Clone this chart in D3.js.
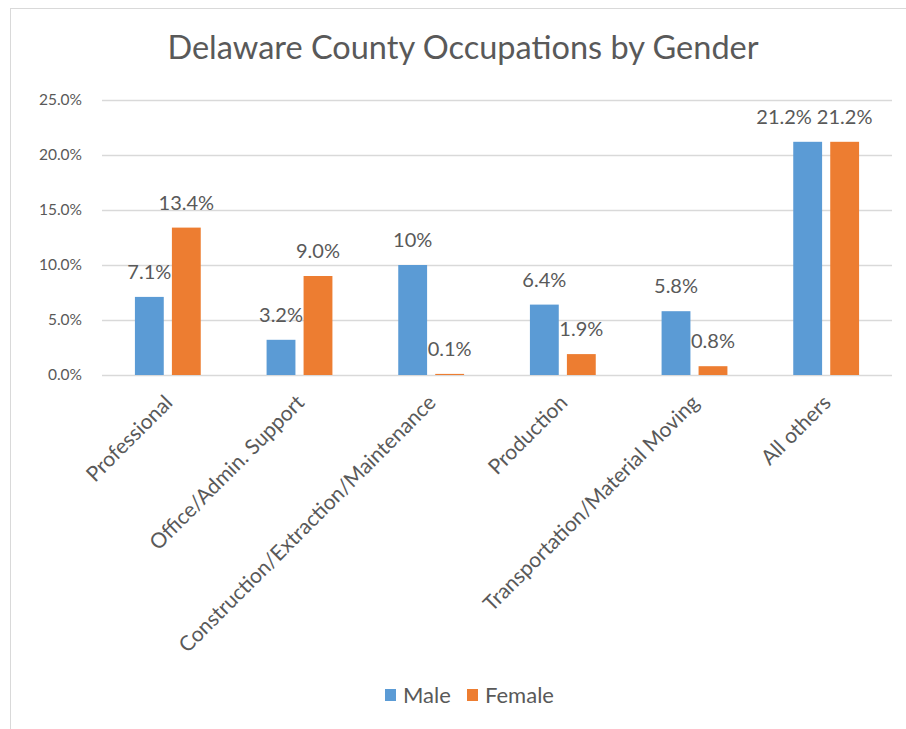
<!DOCTYPE html>
<html>
<head>
<meta charset="utf-8">
<script src="https://cdn.jsdelivr.net/npm/d3@7"></script>
<style>
  body { margin: 0; background: #fff; }
  text { font-family: Lato, "Open Sans", sans-serif; fill: #595959; }
</style>
</head>
<body>
<svg id="chart" width="906" height="729"></svg>
<script>
// chart values
var categories = ['Professional', 'Office/Admin. Support', 'Construction/Extraction/Maintenance',
                  'Production', 'Transportation/Material Moving', 'All others'];
var seriesNames = ['Male', 'Female'];
var maleValues = [7.1, 3.2, 10, 6.4, 5.8, 21.2];
var femaleValues = [13.4, 9.0, 0.1, 1.9, 0.8, 21.2];
var maleLabels = ['7.1%', '3.2%', '10%', '6.4%', '5.8%', '21.2%'];
var femaleLabels = ['13.4%', '9.0%', '0.1%', '1.9%', '0.8%', '21.2%'];
var yTicks = [0, 5, 10, 15, 20, 25];
var colors = ['#5B9BD5', '#ED7D31'];

var svg = d3.select('#chart'),
    margin = {left: 102, right: 14, top: 100, bottom: 354},
    width = 906 - margin.left - margin.right,
    height = 729 - margin.top - margin.bottom;

// outer chart border (only top and left are inside the frame)
svg.append('rect')
    .attr('x', 10.5).attr('y', 8.5)
    .attr('width', 1000).attr('height', 1000)
    .attr('fill', 'none')
    .attr('stroke', '#D9D9D9');

svg.append('text')
    .attr('x', 463).attr('y', 59)
    .attr('text-anchor', 'middle')
    .style('font-size', '32.5px')
    .text('Delaware County Occupations by Gender');

var g = svg.append('g')
    .attr('transform', 'translate(' + margin.left + ',' + margin.top + ')');

var x0 = d3.scaleBand().domain(categories).range([0, width]).padding(0);
var x1 = d3.scaleBand().domain(seriesNames)
    .range([x0.bandwidth() * 0.25, x0.bandwidth() * 0.75])
    .paddingInner(0.22).paddingOuter(0);
var y = d3.scaleLinear().domain([0, 25]).range([height, 0]);

var yAxis = d3.axisLeft(y)
    .tickValues(yTicks)
    .tickFormat(function (d) { return d.toFixed(1) + '%'; })
    .tickSize(-width)
    .tickPadding(20);

var ya = g.append('g').call(yAxis);
ya.select('.domain').remove();
ya.selectAll('.tick line').attr('stroke', '#D9D9D9').attr('stroke-width', 1.3);
ya.selectAll('.tick text').style('font-size', '15.5px').attr('fill', '#595959');

var rows = categories.map(function (c, i) {
    return {
        cat: c,
        vals: [
            {s: 'Male', v: maleValues[i], label: maleLabels[i], color: colors[0]},
            {s: 'Female', v: femaleValues[i], label: femaleLabels[i], color: colors[1]}
        ]
    };
});

var groups = g.selectAll('.grp')
    .data(rows)
    .enter().append('g')
    .attr('class', 'grp')
    .attr('transform', function (d) { return 'translate(' + x0(d.cat) + ',0)'; });

groups.selectAll('rect')
    .data(function (d) { return d.vals; })
    .enter().append('rect')
    .attr('x', function (d) { return x1(d.s); })
    .attr('width', x1.bandwidth())
    .attr('y', function (d) { return y(d.v); })
    .attr('height', function (d) { return height - y(d.v); })
    .attr('fill', function (d) { return d.color; });

groups.selectAll('text.lbl')
    .data(function (d) { return d.vals; })
    .enter().append('text')
    .attr('class', 'lbl')
    .attr('x', function (d) { return x1(d.s) + x1.bandwidth() / 2; })
    .attr('y', function (d) { return y(d.v) - 18; })
    .attr('text-anchor', 'middle')
    .style('font-size', '20px')
    .text(function (d) { return d.label; });

// push the left label aside when the two labels of a group collide
groups.each(function () {
    var lbls = d3.select(this).selectAll('text.lbl').nodes(),
        a = lbls[0].getBBox(),
        b = lbls[1].getBBox();
    if (Math.abs(a.y - b.y) < a.height && a.x + a.width + 5 > b.x) {
        var shift = a.x + a.width + 5 - b.x;
        d3.select(lbls[0]).attr('x', +d3.select(lbls[0]).attr('x') - shift);
    }
});

// rotated category labels
g.selectAll('.cat')
    .data(categories)
    .enter().append('text')
    .attr('class', 'cat')
    .attr('text-anchor', 'end')
    .attr('transform', function (d) {
        return 'translate(' + (x0(d) + x0.bandwidth() / 2 + 6) + ',' + (height + 29) + ')rotate(-45)';
    })
    .style('font-size', '21px')
    .text(function (d) { return d; });

// legend
var legend = svg.append('g').attr('transform', 'translate(385,689)');
var legX = [0, 82];
seriesNames.forEach(function (s, i) {
    legend.append('rect')
        .attr('x', legX[i]).attr('y', 0)
        .attr('width', 11).attr('height', 12)
        .attr('fill', colors[i]);
    legend.append('text')
        .attr('x', legX[i] + 18).attr('y', 14)
        .style('font-size', '22px')
        .text(s);
});
</script>
</body>
</html>
